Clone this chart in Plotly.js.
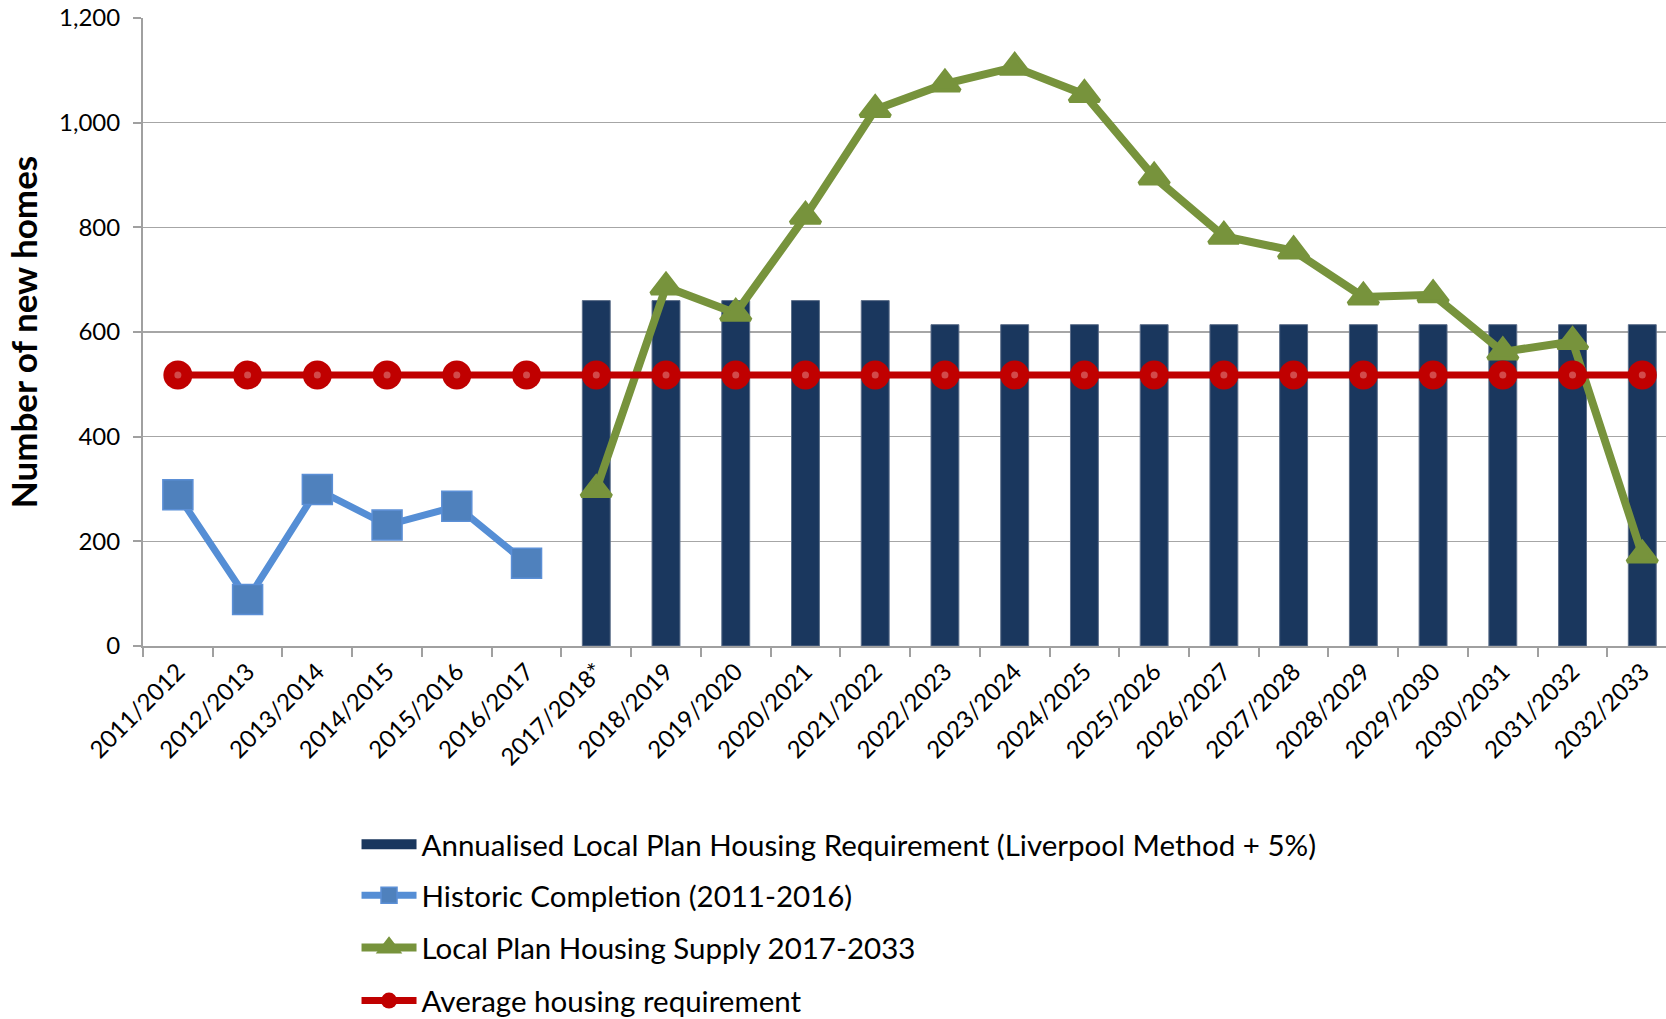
<!DOCTYPE html>
<html>
<head>
<meta charset="utf-8">
<script src="https://cdn.plot.ly/plotly-3.0.1.min.js"></script>
<style>
html,body{margin:0;padding:0;background:#fff;}
#chart{width:1666px;height:1019px;}
</style>
</head>
<body>
<div id="chart"></div>
<script>
const years = ["2011/2012","2012/2013","2013/2014","2014/2015","2015/2016","2016/2017","2017/2018*","2018/2019","2019/2020","2020/2021","2021/2022","2022/2023","2023/2024","2024/2025","2025/2026","2026/2027","2027/2028","2028/2029","2029/2030","2030/2031","2031/2032","2032/2033"];
const requirementYears = years.slice(6);
const requirementValues = [660,660,660,660,660,614,614,614,614,614,614,614,614,614,614,614];
const historicYears = years.slice(0,6);
const historicValues = [289,89,299,231,267,158];
const supplyYears = years.slice(6);
const supplyValues = [299,686,636,821,1025,1074,1106,1054,896,783,755,667,671,562,582,174];
const averageValues = years.map(() => 518);

const FONT = "Lato, 'Open Sans', sans-serif";
const NAVY = '#1a375e';

const traces = [
  {type:'bar', x:requirementYears, y:requirementValues, name:'Annualised Local Plan Housing Requirement (Liverpool Method + 5%)',
   marker:{color:NAVY, line:{color:'#5d6f8a', width:1}}, width:0.4, showlegend:false},
  {type:'scatter', mode:'lines', x:[null], y:[null], name:'Annualised Local Plan Housing Requirement (Liverpool Method + 5%)',
   line:{color:NAVY, width:18}, hoverinfo:'skip', legend:'legend'},
  {type:'scatter', mode:'lines+markers', x:historicYears, y:historicValues, name:'Historic Completion (2011-2016)',
   line:{color:'#558ed5', width:7}, marker:{symbol:'square', size:30, color:'#4f81bd', line:{color:'#5b8fd6', width:1.5}}, legend:'legend2'},
  {type:'scatter', mode:'lines+markers', x:supplyYears, y:supplyValues, name:'Local Plan Housing Supply 2017-2033',
   line:{color:'#77933c', width:8}, marker:{symbol:'triangle-up', size:26, color:'#77933c', line:{color:'#77933c', width:4}}, legend:'legend3'},
  {type:'scatter', mode:'lines+markers', x:years, y:averageValues, name:'Average housing requirement',
   line:{color:'#c00000', width:7}, marker:{symbol:'circle', size:29, color:'#c00000'}, legend:'legend4'},
  {type:'scatter', mode:'markers', x:years, y:averageValues, showlegend:false, hoverinfo:'skip',
   marker:{symbol:'circle', size:7, color:'#d24a4a'}}
];

function leg(y){
  return {x:0.1402, y:y, xanchor:'left', yanchor:'middle', orientation:'v', bgcolor:'rgba(0,0,0,0)',
    font:{family:FONT, size:29.5, color:'#000'}, itemwidth:55, borderwidth:0};
}

const layout = {
  width:1666, height:1019,
  margin:{l:143, r:0, t:18, b:373, autoexpand:false},
  paper_bgcolor:'#fff', plot_bgcolor:'#fff',
  font:{family:FONT, color:'#000'},
  barmode:'overlay',
  showlegend:true,
  xaxis:{type:'category', categoryorder:'array', categoryarray:years, range:[-0.5, 21.34],
    showgrid:false, showline:true, linecolor:'#a0a0a0', linewidth:2,
    ticks:'outside', tickson:'boundaries', ticklen:9, tickcolor:'#a0a0a0', tickwidth:2,
    tickangle:-45, tickfont:{family:FONT, size:24, color:'#000'}, fixedrange:true},
  yaxis:{range:[0,1200], dtick:200, tickformat:',', showgrid:true, gridcolor:'#a6a6a6', gridwidth:1.5,
    showline:true, linecolor:'#a0a0a0', linewidth:2, ticks:'outside', ticklen:8, tickcolor:'#a0a0a0', tickwidth:2,
    ticklabelstandoff:8,
    tickfont:{family:FONT, size:24, color:'#000'}, zeroline:false,
    title:{text:'Number of new homes', font:{family:FONT, size:35, color:'#000', weight:'bold'}, standoff:11}},
  legend:leg(-0.3164),
  legend2:leg(-0.3976),
  legend3:leg(-0.4806),
  legend4:leg(-0.5651)
};

Plotly.newPlot('chart', traces, layout, {displayModeBar:false, staticPlot:true});
</script>
</body>
</html>
